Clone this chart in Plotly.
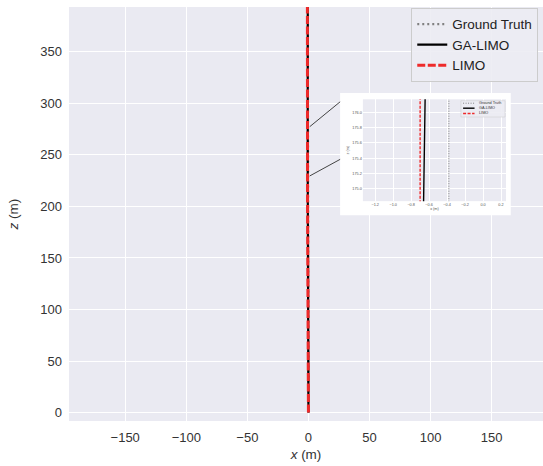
import plotly.graph_objects as go

# ---- data (x position in metres along the trajectory height z) ----
z_m = [0, 40, 80, 120, 160, 174.8, 175.0, 175.5, 176.0, 176.2, 200, 240, 280, 320, 360, 400]
gt_x = [0.0, -0.10, -0.18, -0.28, -0.35, -0.38, -0.38, -0.38, -0.38, -0.38, -0.40, -0.42, -0.45, -0.47, -0.50, -0.52]
ga_x = [0.0, -0.20, -0.38, -0.52, -0.62, -0.662, -0.660, -0.653, -0.646, -0.644, -0.62, -0.60, -0.58, -0.57, -0.56, -0.55]
limo_x = [0.0, -0.25, -0.45, -0.60, -0.68, -0.70, -0.70, -0.70, -0.70, -0.70, -0.72, -0.75, -0.78, -0.80, -0.82, -0.85]

series_names = ["Ground Truth", "GA-LIMO", "LIMO"]
series_x = [gt_x, ga_x, limo_x]

main_x_ticks = [-150, -100, -50, 0, 50, 100, 150]
main_y_ticks = [0, 50, 100, 150, 200, 250, 300, 350]
inset_x_ticks = [-1.2, -1.0, -0.8, -0.6, -0.4, -0.2, 0.0, 0.2]
inset_y_ticks = [175.0, 175.2, 175.4, 175.6, 175.8, 176.0]

# ---- styles ----
colors = ["#808080", "#000000", "#ee2a2a"]
dashes = ["2px,3px", "solid", "8px,2.5px"]
main_widths = [2.2, 2.2, 3.0]
inset_widths = [1.0, 1.4, 1.4]
inset_dashes = ["1px,1.5px", "solid", "3px,1.5px"]

FONT = "Liberation Sans, Arial, sans-serif"
TXT = "#333333"
BG = "#EAEAF2"

fig = go.Figure()

for name, xs, c, d, w in zip(series_names, series_x, colors, dashes, main_widths):
    fig.add_trace(go.Scatter(x=xs, y=z_m, mode="lines", name=name,
                             line=dict(color=c, dash=d, width=w),
                             xaxis="x", yaxis="y"))

for name, xs, c, d, w in zip(series_names, series_x, colors, inset_dashes, inset_widths):
    fig.add_trace(go.Scatter(x=xs, y=z_m, mode="lines", name=name, showlegend=False,
                             line=dict(color=c, dash=d, width=w),
                             xaxis="x2", yaxis="y2"))

# inset white frame (below the inset's own background)
shapes = [dict(type="rect", xref="paper", yref="paper", x0=0.572, x1=0.932, y0=0.497, y1=0.792,
               fillcolor="white", line=dict(width=0), layer="below")]
# connector lines from the trajectory to the inset
shapes += [
    dict(type="line", xref="paper", yref="paper", x0=0.508, y0=0.711, x1=0.572, y1=0.771,
         line=dict(color="#444444", width=1), layer="above"),
    dict(type="line", xref="paper", yref="paper", x0=0.508, y0=0.592, x1=0.572, y1=0.632,
         line=dict(color="#444444", width=1), layer="above"),
]

# inset mini legend (drawn in inset-domain coordinates)
shapes.append(dict(type="rect", xref="x2 domain", yref="y2 domain", x0=0.685, x1=0.993,
                   y0=0.826, y1=0.986, fillcolor="rgba(236,236,243,0.9)",
                   line=dict(color="#cccccc", width=0.5), layer="above"))
annotations = []
leg_y = [0.962, 0.913, 0.861]
for name, c, d, w, ly in zip(series_names, colors, inset_dashes, inset_widths, leg_y):
    shapes.append(dict(type="line", xref="x2 domain", yref="y2 domain", x0=0.70, x1=0.78,
                       y0=ly, y1=ly, line=dict(color=c, dash=d, width=w), layer="above"))
    annotations.append(dict(xref="x2 domain", yref="y2 domain", x=0.795, y=ly, text=name,
                            showarrow=False, xanchor="left", yanchor="middle",
                            font=dict(size=3.8, color=TXT, family=FONT)))

fig.update_layout(
    width=543, height=466,
    margin=dict(l=69, r=0, t=7, b=45),
    paper_bgcolor="white", plot_bgcolor=BG,
    font=dict(family=FONT, color=TXT, size=13),
    shapes=shapes, annotations=annotations,
    legend=dict(x=0.99, y=0.998, xanchor="right", yanchor="top",
                bgcolor="rgba(236,236,243,0.9)", bordercolor="#cccccc", borderwidth=1,
                font=dict(size=13.5, color="#222222", family=FONT),
                itemwidth=30, tracegroupgap=0),
    xaxis=dict(range=[-196, 192], tickvals=main_x_ticks, showgrid=True, gridcolor="white",
               gridwidth=1, zeroline=False, showline=False, ticks="", ticklabelstandoff=7,
               title=dict(text="<i>x</i> (m)", font=dict(size=13.5), standoff=5),
               tickfont=dict(size=13), domain=[0, 1], anchor="y"),
    yaxis=dict(range=[-8.2, 393.5], tickvals=main_y_ticks, showgrid=True, gridcolor="white",
               gridwidth=1, zeroline=False, showline=False, ticks="", ticklabelstandoff=6,
               title=dict(text="<i>z</i> (m)", font=dict(size=13.5), standoff=18),
               tickfont=dict(size=13), domain=[0, 1], anchor="x"),
    xaxis2=dict(range=[-1.337, 0.256], tickvals=inset_x_ticks, tickformat=".1f",
                showgrid=True, gridcolor="white", gridwidth=0.7, zeroline=False,
                showline=False, ticks="", domain=[0.620, 0.922], anchor="y2",
                tickfont=dict(size=3.8, color="#555555"),
                title=dict(text="x (m)", font=dict(size=3.8, color="#555555"), standoff=1)),
    yaxis2=dict(range=[174.84, 176.17], tickvals=inset_y_ticks, tickformat=".1f",
                showgrid=True, gridcolor="white", gridwidth=0.7, zeroline=False,
                showline=False, ticks="", domain=[0.531, 0.777], anchor="x2",
                tickfont=dict(size=3.8, color="#555555"),
                title=dict(text="z (m)", font=dict(size=3.8, color="#555555"), standoff=3)),
)

fig.write_html("out.html", config={"displayModeBar": False},
               post_script="document.body.style.margin='0';document.body.style.overflow='hidden';")
